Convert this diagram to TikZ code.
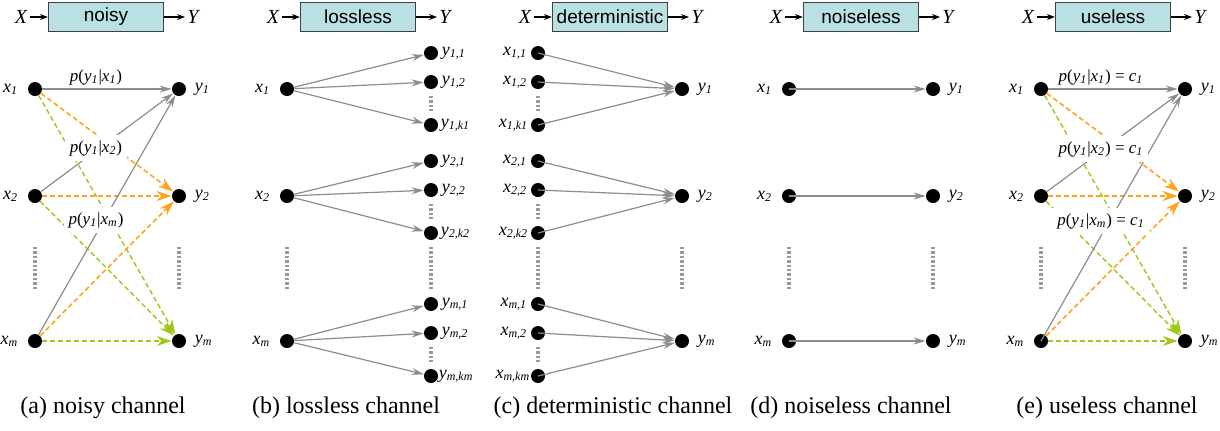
\documentclass[tikz,border=0pt]{standalone}
\usepackage{fontspec}
\setmainfont{Liberation Serif}
\setsansfont{Liberation Sans}
\usetikzlibrary{arrows.meta,positioning}

% etichetta in corsivo con pedice
\newcommand{\vv}[2]{\textit{#1}\textsubscript{\textit{#2}}}
\newcommand{\pr}[2]{\textit{p}(\vv{y}{1}|\vv{x}{#1})#2}

\begin{document}
\begin{tikzpicture}[x=0.5pt,y=-0.5pt,
  vtx/.style={circle,fill=black,inner sep=0pt,minimum size=7pt},
  chbox/.style={draw=boxEdge,fill=boxFill,line width=0.6pt,minimum width=57.5pt,
    minimum height=14.5pt,inner sep=0pt,font=\sffamily\fontsize{9.5}{11}\selectfont},
  io/.style={font=\fontsize{10}{12}\selectfont\itshape,inner sep=1pt},
  lbl/.style={font=\fontsize{9}{10}\selectfont,inner sep=1pt},
  prob/.style={fill=white,inner sep=2.5pt,font=\fontsize{8.5}{9}\selectfont},
  capt/.style={font=\fontsize{12}{14}\selectfont},
  ioarr/.style={draw=black,line width=0.6pt,-{Stealth[length=4pt,width=3pt]}},
  gedge/.style={draw=lineGray,line width=0.6pt,-{Stealth[length=6pt,width=3.5pt]}},
  oedge/.style={draw=colOrange,line width=0.8pt,dash pattern=on 2.5pt off 1.5pt,
    -{Stealth[length=7.5pt,width=5pt]}},
  vedge/.style={draw=colGreen,line width=0.7pt,dash pattern=on 2.5pt off 1.5pt,
    -{Stealth[length=7.5pt,width=5pt]}},
  vdots/.style={draw=dotGray,line width=1.8pt,dash pattern=on 1.2pt off 1pt}
]

% Colori
\definecolor{boxFill}{HTML}{B9E0E2}
\definecolor{boxEdge}{HTML}{404040}
\definecolor{lineGray}{HTML}{8C8C8C}
\definecolor{dotGray}{HTML}{9A9A9A}
\definecolor{colOrange}{HTML}{FFA31A}
\definecolor{colGreen}{HTML}{9BC81A}

\useasboundingbox (0,0) rectangle (1220,430);

%%%%%%%%%% (a) noisy
\node[chbox] (a-box) at (106,17) {noisy};
\node[io] (a-X) at (21,17) {X};
\node[io] (a-Y) at (193,17) {Y};
\draw[ioarr] (a-X) -- (a-box);
\draw[ioarr] (a-box) -- (a-Y);

\node[vtx] (a-x1) at (35,89) {};
\node[vtx] (a-x2) at (35,196) {};
\node[vtx] (a-xm) at (35,341) {};
\node[vtx] (a-y1) at (179,89) {};
\node[vtx] (a-y2) at (179,196) {};
\node[vtx] (a-ym) at (179,341) {};
\node[lbl,left=3.5pt of a-x1] (a-x1l) {\vv{x}{1}};
\node[lbl,left=3.5pt of a-x2] (a-x2l) {\vv{x}{2}};
\node[lbl,left=3.5pt of a-xm] (a-xml) {\vv{x}{m}};
\node[lbl,right=3pt of a-y1] (a-y1l) {\vv{y}{1}};
\node[lbl,right=3pt of a-y2] (a-y2l) {\vv{y}{2}};
\node[lbl,right=3pt of a-ym] (a-yml) {\vv{y}{m}};
\draw[vdots] (35,247) -- (35,290);
\draw[vdots] (179,247) -- (179,290);

\draw[vedge] (a-x1) -- (a-ym);
\draw[vedge] (a-x2) -- (a-ym);
\draw[vedge] (a-xm) -- (a-ym);
\draw[oedge] (a-x1) -- (a-y2);
\draw[oedge,line width=1.2pt] (a-x2) -- (a-y2);
\draw[oedge] (a-xm) -- (a-y2);
\draw[gedge] (a-x1) -- (a-y1);
\draw[gedge] (a-x2) -- (a-y1);
\draw[gedge] (a-xm) -- (a-y1);

\node[prob,fill=none] (a-p1) at (96,77) {\pr{1}{}};
\node[prob] (a-p2) at (96,148) {\pr{2}{}};
\node[prob] (a-pm) at (96,220) {\pr{m}{}};

\node[capt] (a-cap) at (103,408) {(a) noisy channel};

%%%%%%%%%% (b) lossless
\node[chbox] (b-box) at (358,17) {lossless};
\node[io] (b-X) at (273,17) {X};
\node[io] (b-Y) at (445,17) {Y};
\draw[ioarr] (b-X) -- (b-box);
\draw[ioarr] (b-box) -- (b-Y);

\node[vtx] (b-x1) at (287,89) {};
\node[vtx] (b-x2) at (287,196) {};
\node[vtx] (b-xm) at (287,341) {};
\node[lbl,left=3.5pt of b-x1] (b-x1l) {\vv{x}{1}};
\node[lbl,left=3.5pt of b-x2] (b-x2l) {\vv{x}{2}};
\node[lbl,left=3.5pt of b-xm] (b-xml) {\vv{x}{m}};

\node[vtx] (b-y11) at (431,53) {};
\node[vtx] (b-y12) at (431,82) {};
\node[vtx] (b-y1k) at (431,125) {};
\node[vtx] (b-y21) at (431,161) {};
\node[vtx] (b-y22) at (431,190) {};
\node[vtx] (b-y2k) at (431,233) {};
\node[vtx] (b-ym1) at (431,304) {};
\node[vtx] (b-ym2) at (431,333) {};
\node[vtx] (b-ymk) at (431,376) {};
\node[lbl,right=0.5pt of b-y11] (b-y11l) {\vv{y}{1,1}};
\node[lbl,right=0.5pt of b-y12] (b-y12l) {\vv{y}{1,2}};
\node[lbl,right=0pt of b-y1k] (b-y1kl) {\vv{y}{1,k1}};
\node[lbl,right=0.5pt of b-y21] (b-y21l) {\vv{y}{2,1}};
\node[lbl,right=0.5pt of b-y22] (b-y22l) {\vv{y}{2,2}};
\node[lbl,right=0pt of b-y2k] (b-y2kl) {\vv{y}{2,k2}};
\node[lbl,right=0.5pt of b-ym1] (b-ym1l) {\vv{y}{m,1}};
\node[lbl,right=0.5pt of b-ym2] (b-ym2l) {\vv{y}{m,2}};
\node[lbl,right=-1pt of b-ymk] (b-ymkl) {\vv{y}{m,km}};
\draw[vdots] (287,247) -- (287,290);
\draw[vdots] (431,247) -- (431,290);
\draw[vdots] (431,96) -- (431,111);
\draw[vdots] (431,204) -- (431,219);
\draw[vdots] (431,347) -- (431,362);

\draw[gedge] (b-x1) -- (b-y11);
\draw[gedge] (b-x1) -- (b-y12);
\draw[gedge] (b-x1) -- (b-y1k);
\draw[gedge] (b-x2) -- (b-y21);
\draw[gedge] (b-x2) -- (b-y22);
\draw[gedge] (b-x2) -- (b-y2k);
\draw[gedge] (b-xm) -- (b-ym1);
\draw[gedge] (b-xm) -- (b-ym2);
\draw[gedge] (b-xm) -- (b-ymk);

\node[capt] (b-cap) at (346,408) {(b) lossless channel};

%%%%%%%%%% (c) deterministic
\node[chbox] (c-box) at (610,17) {deterministic};
\node[io] (c-X) at (525,17) {X};
\node[io] (c-Y) at (697,17) {Y};
\draw[ioarr] (c-X) -- (c-box);
\draw[ioarr] (c-box) -- (c-Y);

\node[vtx] (c-x11) at (538,53) {};
\node[vtx] (c-x12) at (538,82) {};
\node[vtx] (c-x1k) at (538,125) {};
\node[vtx] (c-x21) at (538,161) {};
\node[vtx] (c-x22) at (538,190) {};
\node[vtx] (c-x2k) at (538,233) {};
\node[vtx] (c-xm1) at (538,304) {};
\node[vtx] (c-xm2) at (538,333) {};
\node[vtx] (c-xmk) at (538,376) {};
\node[lbl,left=0.5pt of c-x11] (c-x11l) {\vv{x}{1,1}};
\node[lbl,left=0.5pt of c-x12] (c-x12l) {\vv{x}{1,2}};
\node[lbl,left=0pt of c-x1k] (c-x1kl) {\vv{x}{1,k1}};
\node[lbl,left=0.5pt of c-x21] (c-x21l) {\vv{x}{2,1}};
\node[lbl,left=0.5pt of c-x22] (c-x22l) {\vv{x}{2,2}};
\node[lbl,left=0pt of c-x2k] (c-x2kl) {\vv{x}{2,k2}};
\node[lbl,left=0.5pt of c-xm1] (c-xm1l) {\vv{x}{m,1}};
\node[lbl,left=0.5pt of c-xm2] (c-xm2l) {\vv{x}{m,2}};
\node[lbl,left=-1pt of c-xmk] (c-xmkl) {\vv{x}{m,km}};

\node[vtx] (c-y1) at (682,89) {};
\node[vtx] (c-y2) at (682,196) {};
\node[vtx] (c-ym) at (682,341) {};
\node[lbl,right=3pt of c-y1] (c-y1l) {\vv{y}{1}};
\node[lbl,right=3pt of c-y2] (c-y2l) {\vv{y}{2}};
\node[lbl,right=3pt of c-ym] (c-yml) {\vv{y}{m}};
\draw[vdots] (538,247) -- (538,290);
\draw[vdots] (682,247) -- (682,290);
\draw[vdots] (538,96) -- (538,111);
\draw[vdots] (538,204) -- (538,219);
\draw[vdots] (538,347) -- (538,362);

\draw[gedge] (c-x11.center) -- (c-y1);
\draw[gedge] (c-x12.center) -- (c-y1);
\draw[gedge] (c-x1k.center) -- (c-y1);
\draw[gedge] (c-x21.center) -- (c-y2);
\draw[gedge] (c-x22.center) -- (c-y2);
\draw[gedge] (c-x2k.center) -- (c-y2);
\draw[gedge] (c-xm1.center) -- (c-ym);
\draw[gedge] (c-xm2.center) -- (c-ym);
\draw[gedge] (c-xmk.center) -- (c-ym);

\node[capt] (c-cap) at (613,408) {(c) deterministic channel};

%%%%%%%%%% (d) noiseless
\node[chbox] (d-box) at (861,17) {noiseless};
\node[io] (d-X) at (776,17) {X};
\node[io] (d-Y) at (948,17) {Y};
\draw[ioarr] (d-X) -- (d-box);
\draw[ioarr] (d-box) -- (d-Y);

\node[vtx] (d-x1) at (789,89) {};
\node[vtx] (d-x2) at (789,196) {};
\node[vtx] (d-xm) at (789,341) {};
\node[vtx] (d-y1) at (933,89) {};
\node[vtx] (d-y2) at (933,196) {};
\node[vtx] (d-ym) at (933,341) {};
\node[lbl,left=3.5pt of d-x1] (d-x1l) {\vv{x}{1}};
\node[lbl,left=3.5pt of d-x2] (d-x2l) {\vv{x}{2}};
\node[lbl,left=3.5pt of d-xm] (d-xml) {\vv{x}{m}};
\node[lbl,right=3pt of d-y1] (d-y1l) {\vv{y}{1}};
\node[lbl,right=3pt of d-y2] (d-y2l) {\vv{y}{2}};
\node[lbl,right=3pt of d-ym] (d-yml) {\vv{y}{m}};
\draw[vdots] (789,247) -- (789,290);
\draw[vdots] (933,247) -- (933,290);

\draw[gedge] (d-x1.center) -- (d-y1);
\draw[gedge] (d-x2.center) -- (d-y2);
\draw[gedge] (d-xm.center) -- (d-ym);

\node[capt] (d-cap) at (851,408) {(d) noiseless channel};

%%%%%%%%%% (e) useless
\node[chbox] (e-box) at (1113,17) {useless};
\node[io] (e-X) at (1028,17) {X};
\node[io] (e-Y) at (1200,17) {Y};
\draw[ioarr] (e-X) -- (e-box);
\draw[ioarr] (e-box) -- (e-Y);

\node[vtx] (e-x1) at (1041,89) {};
\node[vtx] (e-x2) at (1041,196) {};
\node[vtx] (e-xm) at (1041,341) {};
\node[vtx] (e-y1) at (1185,89) {};
\node[vtx] (e-y2) at (1185,196) {};
\node[vtx] (e-ym) at (1185,341) {};
\node[lbl,left=3.5pt of e-x1] (e-x1l) {\vv{x}{1}};
\node[lbl,left=3.5pt of e-x2] (e-x2l) {\vv{x}{2}};
\node[lbl,left=3.5pt of e-xm] (e-xml) {\vv{x}{m}};
\node[lbl,right=3pt of e-y1] (e-y1l) {\vv{y}{1}};
\node[lbl,right=3pt of e-y2] (e-y2l) {\vv{y}{2}};
\node[lbl,right=3pt of e-ym] (e-yml) {\vv{y}{m}};
\draw[vdots] (1041,247) -- (1041,290);
\draw[vdots] (1185,247) -- (1185,290);

\draw[vedge] (e-x1) -- (e-ym);
\draw[vedge] (e-x2) -- (e-ym);
\draw[vedge] (e-xm) -- (e-ym);
\draw[oedge] (e-x1) -- (e-y2);
\draw[oedge,line width=1.2pt] (e-x2) -- (e-y2);
\draw[oedge] (e-xm) -- (e-y2);
\draw[gedge] (e-x1) -- (e-y1);
\draw[gedge] (e-x2) -- (e-y1);
\draw[gedge] (e-xm.center) -- (e-y1);

\node[prob,fill=none] (e-p1) at (1101,77) {\pr{1}{ = \vv{c}{1}}};
\node[prob] (e-p2) at (1101,149) {\pr{2}{ = \vv{c}{1}}};
\node[prob] (e-pm) at (1101,221) {\pr{m}{ = \vv{c}{1}}};

\node[capt] (e-cap) at (1107,408) {(e) useless channel};

\end{tikzpicture}
\end{document}
